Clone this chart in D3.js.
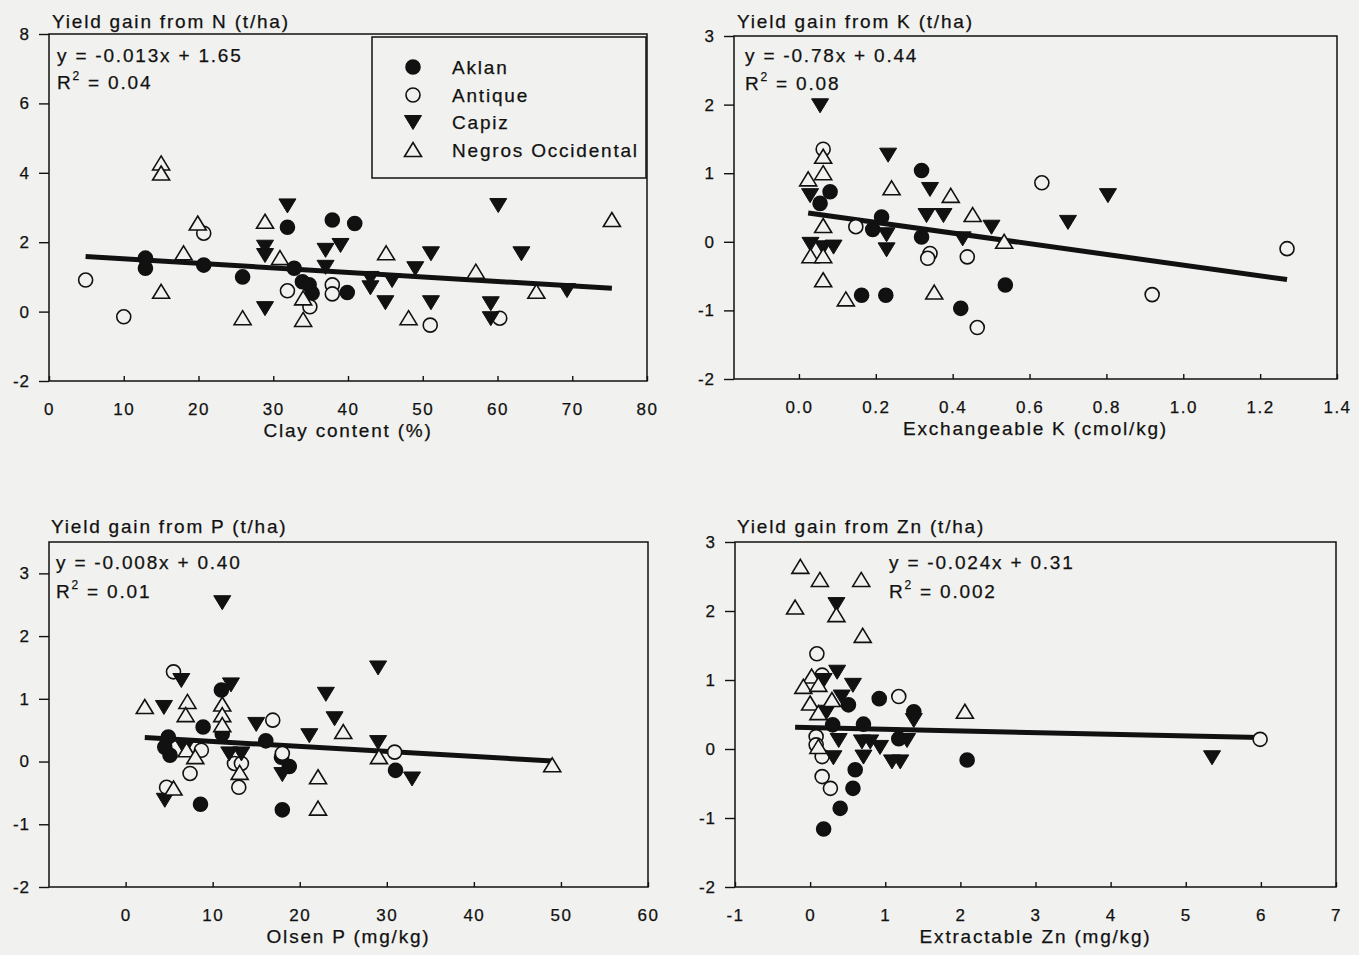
<!DOCTYPE html>
<html><head><meta charset="utf-8">
<script src="https://cdn.jsdelivr.net/npm/d3@7"></script>
<style>
html,body{margin:0;padding:0;background:#f1f1ef;}
svg{display:block;}
text{font-family:"Liberation Sans",Arial,sans-serif;fill:#111;stroke:#111;stroke-width:0.25px;}
</style></head><body>
<svg id="chart" width="1359" height="955"></svg>
<script>
// ---------------- DATA ----------------
const seriesNames = ["Aklan", "Antique", "Capiz", "Negros Occidental"];

// Panel 1: clay content (%) vs yield gain from N (t/ha)
const clayAklan = [[12.9,1.54],[12.9,1.25],[20.7,1.34],[25.9,1.0],[31.9,2.43],[32.8,1.25],[33.9,0.86],[34.8,0.77],[35.2,0.53],[37.9,2.64],[40.9,2.54],[39.9,0.55]];
const clayAntique = [[4.9,0.91],[10.0,-0.15],[20.7,2.26],[31.9,0.6],[34.9,0.14],[37.9,0.77],[37.9,0.51],[51.0,-0.39],[60.3,-0.19]];
const clayCapiz = [[31.9,3.06],[28.9,1.87],[28.9,1.63],[28.9,0.1],[39.0,1.92],[37.0,1.78],[37.0,1.29],[43.0,0.97],[43.0,0.7],[45.9,0.91],[45.0,0.27],[51.1,1.68],[49.0,1.25],[51.1,0.27],[59.1,0.24],[59.1,-0.19],[60.1,3.07],[63.2,1.68],[69.3,0.62]];
const clayNegros = [[15.0,4.27],[15.0,3.98],[19.9,2.54],[18.0,1.68],[15.0,0.57],[25.9,-0.19],[28.9,2.59],[30.9,1.54],[34.0,0.38],[34.0,-0.24],[45.1,1.68],[57.1,1.15],[65.2,0.57],[48.1,-0.19],[75.3,2.64]];

// Panel 2: exchangeable K (cmol/kg) vs yield gain from K (t/ha)
const kAklan = [[0.081,0.73],[0.055,0.56],[0.215,0.36],[0.192,0.18],[0.163,-0.78],[0.226,-0.78],[0.319,1.04],[0.319,0.07],[0.421,-0.97],[0.537,-0.63]];
const kAntique = [[0.063,1.35],[0.148,0.22],[0.341,-0.17],[0.335,-0.24],[0.438,-0.22],[0.464,-1.25],[0.632,0.86],[0.919,-0.77],[1.27,-0.1]];
const kCapiz = [[0.055,1.99],[0.029,0.68],[0.03,-0.03],[0.063,-0.08],[0.09,-0.07],[0.228,0.11],[0.228,-0.11],[0.232,1.27],[0.341,0.77],[0.332,0.39],[0.376,0.39],[0.426,0.05],[0.501,0.22],[0.70,0.29],[0.804,0.68]];
const kNegros = [[0.063,1.24],[0.063,1.0],[0.024,0.91],[0.063,0.23],[0.03,-0.21],[0.063,-0.21],[0.063,-0.56],[0.122,-0.84],[0.241,0.78],[0.395,0.67],[0.452,0.39],[0.534,0.0],[0.352,-0.74]];

// Panel 3: Olsen P (mg/kg) vs yield gain from P (t/ha)
const pAklan = [[8.9,0.55],[11.0,1.14],[11.1,0.44],[4.9,0.39],[4.5,0.23],[5.1,0.1],[8.6,-0.68],[16.1,0.33],[17.9,0.07],[18.8,-0.08],[18.0,-0.77],[31.0,-0.14]];
const pAntique = [[5.5,1.43],[16.9,0.66],[8.7,0.18],[7.4,-0.19],[4.7,-0.41],[12.5,-0.03],[13.3,-0.03],[13.0,-0.41],[18.0,0.13],[30.9,0.15]];
const pCapiz = [[11.1,2.54],[6.4,1.30],[4.4,0.87],[12.1,1.23],[15.0,0.6],[21.1,0.42],[23.0,1.08],[24.0,0.69],[6.8,0.21],[4.5,-0.61],[11.9,0.13],[13.3,0.13],[18.0,-0.2],[29.0,1.5],[29.0,0.31],[32.9,-0.27]];
const pNegros = [[2.2,0.87],[7.1,0.95],[6.9,0.74],[11.1,0.91],[11.1,0.74],[11.1,0.58],[25.0,0.47],[7.0,0.18],[8.0,0.07],[5.5,-0.43],[13.1,-0.18],[22.1,-0.25],[22.1,-0.75],[29.1,0.07],[49.0,-0.06]];

// Panel 4: extractable Zn (mg/kg) vs yield gain from Zn (t/ha)
const znAklan = [[0.51,0.64],[0.92,0.73],[1.38,0.54],[0.30,0.35],[0.71,0.36],[1.18,0.15],[0.6,-0.3],[0.57,-0.57],[0.4,-0.86],[0.18,-1.16],[2.09,-0.16]];
const znAntique = [[0.09,1.38],[0.16,1.07],[1.18,0.76],[0.08,0.18],[0.08,0.06],[0.16,-0.11],[0.16,-0.4],[0.27,-0.57],[5.99,0.14]];
const znCapiz = [[0.35,2.1],[0.18,1.0],[0.36,1.12],[0.57,0.93],[0.22,0.54],[0.42,0.76],[1.38,0.42],[0.38,0.13],[0.31,-0.12],[0.69,0.11],[0.80,0.11],[0.93,0.03],[0.71,-0.11],[1.29,0.13],[1.09,-0.18],[1.2,-0.18],[5.35,-0.12]];
const znNegros = [[-0.13,2.64],[0.13,2.45],[0.68,2.45],[-0.2,2.05],[0.35,1.94],[0.70,1.64],[0.02,1.05],[-0.09,0.90],[0.11,0.93],[0.0,0.66],[0.11,0.52],[0.29,0.71],[0.11,0.03],[2.06,0.54]];

// Axis tick labels
const clayTicks = [0,10,20,30,40,50,60,70,80];
const gainNTicks = [-2,0,2,4,6,8];
const kTicks = [0,0.2,0.4,0.6,0.8,1.0,1.2,1.4];
const gainKTicks = [-2,-1,0,1,2,3];
const olsenTicks = [0,10,20,30,40,50,60];
const gainPTicks = [-2,-1,0,1,2,3];
const znTicks = [-1,0,1,2,3,4,5,6,7];
const gainZnTicks = [-2,-1,0,1,2,3];

// Regression lines
const fitSlopes = [-0.013, -0.78, -0.008, -0.024];
const fitIntercepts = [1.65, 0.44, 0.40, 0.31];
const fitEquations = ["y = -0.013x + 1.65", "y = -0.78x + 0.44", "y = -0.008x + 0.40", "y = -0.024x + 0.31"];
const fitR2 = ["0.04", "0.08", "0.01", "0.002"];

const panelTitles = ["Yield gain from N (t/ha)", "Yield gain from K (t/ha)", "Yield gain from P (t/ha)", "Yield gain from Zn (t/ha)"];
const axisTitles = ["Clay content (%)", "Exchangeable K (cmol/kg)", "Olsen P (mg/kg)", "Extractable Zn (mg/kg)"];

// ---------------- LAYOUT ----------------
const ink = "#111", paper = "#f1f1ef";
const panels = [
  {l:49, t:34, r:647, b:381, xd:[0,80], yd:[-2,8], xt:clayTicks, yt:gainNTicks, fmt:d=>String(d),
   series:[clayAklan,clayAntique,clayCapiz,clayNegros], titleX:52, titleY:28, eqX:57, eqY:62, r2Y:89},
  {l:734, t:36, r:1337, b:379, xd:[-0.169,1.4], yd:[-2,3], xt:kTicks, yt:gainKTicks, fmt:d3.format(".1f"),
   series:[kAklan,kAntique,kCapiz,kNegros], titleX:737, titleY:28, eqX:745, eqY:62, r2Y:90},
  {l:49, t:542, r:648, b:887, xd:[-8.8,60], yd:[-2,3.5], xt:olsenTicks, yt:gainPTicks, fmt:d=>String(d),
   series:[pAklan,pAntique,pCapiz,pNegros], titleX:51, titleY:533, eqX:56, eqY:569, r2Y:598},
  {l:735, t:542, r:1336, b:887, xd:[-1,7], yd:[-2,3], xt:znTicks, yt:gainZnTicks, fmt:d=>String(d),
   series:[znAklan,znAntique,znCapiz,znNegros], titleX:737, titleY:533, eqX:889, eqY:569, r2Y:598}
];

const svg = d3.select("#chart");
svg.append("rect").attr("width",1359).attr("height",955).attr("fill",paper);

const bigFont = "19px", bigLS = "1.8px";

function marker(g, kind, x, y) {
  if (kind === 0 || kind === 1) {
    g.append("circle").attr("cx",x).attr("cy",y).attr("r",7)
      .attr("fill", kind===0 ? ink : paper).attr("stroke",ink).attr("stroke-width",1.6);
  } else if (kind === 2) {
    g.append("path").attr("transform",`translate(${x},${y})`)
      .attr("d","M0,7.5L8.5,-6.5L-8.5,-6.5Z").attr("fill",ink).attr("stroke",ink).attr("stroke-width",1);
  } else {
    g.append("path").attr("transform",`translate(${x},${y})`)
      .attr("d","M0,-7.5L8.5,6.5L-8.5,6.5Z").attr("fill",paper).attr("stroke",ink).attr("stroke-width",1.6);
  }
}

panels.forEach((p, i) => {
  const x = d3.scaleLinear().domain(p.xd).range([p.l, p.r]);
  const y = d3.scaleLinear().domain(p.yd).range([p.b, p.t]);
  const g = svg.append("g");

  // y axis (ticks outward)
  const ya = g.append("g").attr("transform",`translate(${p.l},0)`)
    .call(d3.axisLeft(y).tickValues(p.yt).tickSize(10).tickPadding(9).tickFormat(d=>String(d)));
  ya.select(".domain").remove();
  ya.selectAll("line").attr("stroke",ink).attr("stroke-width",1.4);
  ya.selectAll("text").attr("font-size","17px").attr("letter-spacing","1px").attr("fill",ink)
    .attr("font-family","Liberation Sans, Arial, sans-serif");

  // x axis (ticks inward)
  const xa = g.append("g").attr("transform",`translate(0,${p.b})`)
    .call(d3.axisBottom(x).tickValues(p.xt).tickSizeInner(-5).tickSizeOuter(0).tickPadding(22).tickFormat(p.fmt));
  xa.select(".domain").remove();
  xa.selectAll("line").attr("stroke",ink).attr("stroke-width",1.4);
  xa.selectAll("text").attr("font-size","17px").attr("letter-spacing","1.5px").attr("fill",ink)
    .attr("font-family","Liberation Sans, Arial, sans-serif");

  // frame
  g.append("rect").attr("x",p.l).attr("y",p.t).attr("width",p.r-p.l).attr("height",p.b-p.t)
    .attr("fill","none").attr("stroke",ink).attr("stroke-width",1.5);

  // titles
  g.append("text").attr("x",p.titleX).attr("y",p.titleY).attr("font-size",bigFont)
    .attr("letter-spacing",bigLS).text(panelTitles[i]);
  g.append("text").attr("x",(p.l+p.r)/2).attr("y",p.b+56).attr("text-anchor","middle")
    .attr("font-size",bigFont).attr("letter-spacing",bigLS).text(axisTitles[i]);

  // equation
  g.append("text").attr("x",p.eqX).attr("y",p.eqY).attr("font-size",bigFont)
    .attr("letter-spacing",bigLS).text(fitEquations[i]);
  const r2 = g.append("text").attr("x",p.eqX).attr("y",p.r2Y).attr("font-size",bigFont).attr("letter-spacing",bigLS);
  r2.append("tspan").text("R");
  r2.append("tspan").attr("font-size","12px").attr("dy",-9).text("2");
  r2.append("tspan").attr("dy",9).text(" = " + fitR2[i]);

  // regression line across data range
  const allX = p.series.flat().map(d=>d[0]);
  const x0 = d3.min(allX), x1 = d3.max(allX);
  const f = v => fitSlopes[i]*v + fitIntercepts[i];
  g.append("line").attr("x1",x(x0)).attr("y1",y(f(x0))).attr("x2",x(x1)).attr("y2",y(f(x1)))
    .attr("stroke","#111").attr("stroke-width",5);

  // points
  const pg = g.append("g");
  p.series.forEach((s, k) => s.forEach(d => marker(pg, k, x(d[0]), y(d[1]))));
});

// legend (panel 1)
const lg = svg.append("g");
lg.append("rect").attr("x",372).attr("y",37).attr("width",274).attr("height",141)
  .attr("fill",paper).attr("stroke",ink).attr("stroke-width",1.5);
const legendRows = [67,95,122,150];
seriesNames.forEach((n,k) => {
  marker(lg, k, 413, legendRows[k]);
  lg.append("text").attr("x",452).attr("y",legendRows[k]+7).attr("font-size",bigFont)
    .attr("letter-spacing",bigLS).text(n);
});
</script>
</body></html>
